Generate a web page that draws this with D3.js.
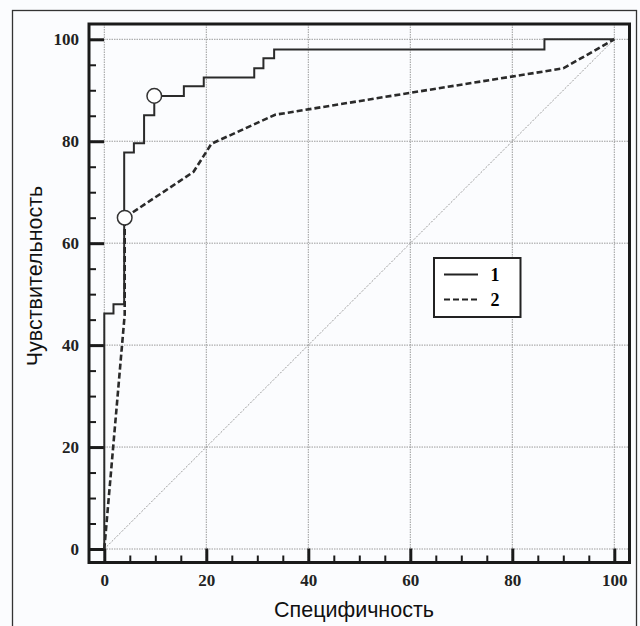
<html>
<head>
  <meta charset="utf-8">
  <script src="https://d3js.org/d3.v7.min.js"></script>
  <style>
    body { margin: 0; background: #fbfcfe; }
    .tick text { font-family: "Liberation Serif", serif; font-weight: bold; font-size: 17px; fill: #222; }
    .title { font-family: "Liberation Sans", Arial, sans-serif; font-size: 21.5px; fill: #111; }
  </style>
</head>
<body>
<script type="text/javascript">
  // ROC curves, values
  var curve1 = [[0,0],[0,46.2],[1.8,48],[3.9,77.8],[5.8,79.6],[7.8,85.1],[9.8,88.9],
                [15.6,90.8],[19.5,92.5],[29.4,94.3],[31.2,96.3],[33.3,98],[86.3,100],[100,100]];
  var curve2 = [[0,0],[4,46],[4,65],[17.5,74],[21,79.5],[33.5,85.2],[60,89.5],[90,94.3],[100,100]];
  var diagonal = [[0,0],[100,100]];
  var markers = [[9.8,88.9],[4,65]];
  var majorTicks = [0,20,40,60,80,100];
  var minorTicks = [5,10,15,25,30,35,45,50,55,65,70,75,85,90,95];
  var legendLabels = ["1","2"];

  var W = 640, H = 626;
  var svg = d3.select("body").append("svg").attr("width", W).attr("height", H);

  // outer frame of the figure
  svg.append("rect").attr("x", 12.5).attr("y", 10.5).attr("width", 624).attr("height", 700)
    .attr("fill", "none").attr("stroke", "#333").attr("stroke-width", 1.3);

  var x = d3.scaleLinear().domain([0,100]).range([104.3, 614.3]);
  var y = d3.scaleLinear().domain([0,100]).range([549, 39.3]);
  var fL = 89, fR = 629.5, fT = 24, fB = 562.5;

  // grid
  var grid = svg.append("g").attr("stroke", "#9c9c9c").attr("stroke-width", 1).attr("stroke-dasharray", "1.5,1");
  majorTicks.forEach(function(t) {
    grid.append("line").attr("x1", x(t)).attr("x2", x(t)).attr("y1", fT).attr("y2", fB);
    grid.append("line").attr("y1", y(t)).attr("y2", y(t)).attr("x1", fL).attr("x2", fR);
  });

  var line = d3.line().x(function(d){ return x(d[0]); }).y(function(d){ return y(d[1]); });

  svg.append("path").attr("d", line(diagonal)).attr("fill", "none")
    .attr("stroke", "#9a9a9a").attr("stroke-width", 1).attr("stroke-dasharray", "2,1.5");

  // axes (ticks pointing inward)
  var yMajor = svg.append("g").attr("transform", "translate(" + fL + ",0)")
    .call(d3.axisLeft(y).tickValues(majorTicks).tickSize(-15).tickPadding(10));
  var yMinor = svg.append("g").attr("transform", "translate(" + fL + ",0)")
    .call(d3.axisLeft(y).tickValues(minorTicks).tickSize(-7).tickFormat(""));
  var xMajor = svg.append("g").attr("transform", "translate(0," + fB + ")")
    .call(d3.axisBottom(x).tickValues(majorTicks).tickSize(-14).tickPadding(11));
  var xMinor = svg.append("g").attr("transform", "translate(0," + fB + ")")
    .call(d3.axisBottom(x).tickValues(minorTicks).tickSize(-7).tickFormat(""));
  [yMajor, xMajor].forEach(function(a){ a.selectAll(".tick line").attr("stroke", "#1a1a1a").attr("stroke-width", 3); });
  [yMinor, xMinor].forEach(function(a){ a.selectAll(".tick line").attr("stroke", "#1a1a1a").attr("stroke-width", 2); });
  svg.selectAll(".domain").remove();

  svg.append("rect").attr("x", fL).attr("y", fT).attr("width", fR - fL).attr("height", fB - fT)
    .attr("fill", "none").attr("stroke", "#1a1a1a").attr("stroke-width", 3);

  // curves
  svg.append("path").attr("d", line.curve(d3.curveStepAfter)(curve1)).attr("fill", "none")
    .attr("stroke", "#2a2a2a").attr("stroke-width", 2);
  svg.append("path").attr("d", line.curve(d3.curveLinear)(curve2)).attr("fill", "none")
    .attr("stroke", "#2a2a2a").attr("stroke-width", 2.6).attr("stroke-dasharray", "6,3");

  svg.selectAll("circle.mark").data(markers).enter().append("circle").attr("class", "mark")
    .attr("cx", function(d){ return x(d[0]); }).attr("cy", function(d){ return y(d[1]); })
    .attr("r", 7.3).attr("fill", "#fff").attr("stroke", "#333").attr("stroke-width", 1.5);

  // legend
  var lg = svg.append("g").attr("transform", "translate(434,258)");
  lg.append("rect").attr("width", 86.5).attr("height", 59).attr("fill", "#fff")
    .attr("stroke", "#222").attr("stroke-width", 2);
  legendLabels.forEach(function(l, i) {
    lg.append("line").attr("x1", 10).attr("x2", 44).attr("y1", 16.5 + i * 25).attr("y2", 16.5 + i * 25)
      .attr("stroke", "#222").attr("stroke-width", 2).attr("stroke-dasharray", i ? "6,3" : null);
    lg.append("text").attr("x", 61).attr("y", 23 + i * 25).attr("text-anchor", "middle")
      .style("font-family", "Liberation Serif, serif").style("font-weight", "bold").style("font-size", "18px")
      .text(l);
  });

  svg.append("text").attr("class", "title").attr("text-anchor", "middle")
    .attr("transform", "translate(42,276) rotate(-90)").text("Чувствительность");
  svg.append("text").attr("class", "title").attr("text-anchor", "middle")
    .attr("x", 354).attr("y", 617).text("Специфичность");
</script>
</body>
</html>
